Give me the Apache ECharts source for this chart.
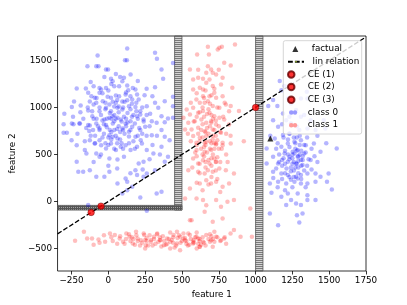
<!DOCTYPE html>
<html><head><meta charset="utf-8">
<script src="https://cdn.jsdelivr.net/npm/echarts@6/dist/echarts.min.js"></script>
<style>html,body{margin:0;padding:0;background:#fff}#c{width:407px;height:305px}</style>
</head><body><div id="c"></div>
<script>
const xTicks = [-250, 0, 250, 500, 750, 1000, 1250, 1500, 1750];
const yTicks = [-500, 0, 500, 1000, 1500];

// class 0 (blue): left cloud + right cloud
const class0 = [
 [128,1627],[-73,1552],[317,1581],[113,1503],[126,1503],[330,1517],[-142,1439],[-82,1439],[-67,1439],[-16,1404],
 [-2,1404],[439,1474],[51,1357],[361,1404],[80,1325],[106,1315],[151,1350],[-27,1325],[18,1304],[29,1279],
 [95,1279],[372,1304],[-215,1201],[-153,1201],[-100,1226],[-60,1208],[-49,1191],[-16,1208],[40,1226],[73,1226],
 [128,1233],[166,1208],[184,1191],[135,1184],[317,1216],[-137,1155],[-115,1120],[-93,1102],[-60,1155],[-5,1113],
 [18,1102],[51,1127],[73,1120],[117,1138],[195,1138],[246,1130],[299,1120],[439,1113],[-233,1063],[-248,1006],
 [-188,1020],[-126,1063],[-82,1049],[-38,1067],[7,1031],[51,1049],[95,1063],[128,1077],[162,1084],[206,1084],
 [317,1049],[383,1067],[439,1013],[-299,932],[-137,967],[-109,907],[-60,960],[-16,996],[18,960],[62,996],
 [95,978],[140,1013],[184,1006],[217,960],[261,1013],[284,932],[339,996],[361,907],[405,882],[439,889],
 [-248,829],[-197,829],[-126,808],[-82,829],[-27,872],[7,889],[29,907],[40,854],[62,889],[84,872],
 [106,900],[151,854],[195,907],[217,925],[239,872],[295,854],[328,836],[383,843],
 [-304,822],[-237,822],[-193,830],[-304,730],[-282,730],[-137,812],[-104,759],[-60,776],[-16,812],[7,705],
 [29,688],[40,759],[62,670],[95,776],[117,830],[140,741],[162,794],[184,688],[217,759],[250,794],
 [295,705],[361,759],[383,688],[416,652],[-126,652],[-93,617],[-49,599],[-16,564],[18,617],[51,546],
 [84,581],[117,599],[151,546],[195,581],[228,617],[261,546],[306,510],[361,581],[-215,599],[-160,546],
 [-149,510],[-82,510],[-60,475],[7,457],[62,447],[106,475],[206,404],[239,422],[-215,422],[-204,315],
 [-171,315],[-126,333],[-82,262],[-27,262],[7,315],[62,191],[117,244],[128,209],[184,333],[195,280],
 [233,340],[239,262],[261,298],[317,333],[328,85],[361,102],[128,120],[95,85],[217,42],[162,156],
 [-137,-39],[261,-100],[383,422],[405,475],
 [-90,700],[-60,650],[-30,720],[0,680],[20,740],[50,700],[80,660],[110,720],[140,690],[170,640],
 [200,700],[-70,800],[-40,860],[-10,790],[30,830],[60,770],[90,850],[120,800],[150,760],[180,830],
 [210,780],[-50,920],[-20,980],[10,940],[40,1010],[70,950],[100,1000],[130,940],[160,900],[190,960],
 [-100,880],[0,600],[40,560],[90,620],[-20,1050],[60,1080],[20,880],[-60,760],[120,880],[240,850],
 [230,720],[-130,750],[160,1040],
 [-140,1000],[-110,960],[-80,1100],[-40,1150],[0,1180],[30,1060],[70,1010],[110,1060],[150,1120],[190,1050],
 [230,1000],[260,920],[-170,880],[-150,780],[-120,700],[-90,620],[-40,680],[-20,620],[20,660],[60,620],
 [100,560],[140,620],[180,560],[220,650],[260,700],[280,800],[-190,950],[-210,720],[-250,650],[-240,900],
 [-10,880],[40,920],[70,800],[100,760],[130,840],[170,920],[200,880],[-30,820],[-80,880],[10,760],
 [50,880],[80,740],[-100,1030],[-60,1000],[150,980],[120,1160],[20,1250],[-120,1270],[200,1280],[260,1200],
 [300,600],[330,700],[350,500],[-50,500],[-100,420],[0,380],[60,350],[150,300],[280,450],[-160,640],
 [1164,1280],[1175,1184],[1197,1227],[1348,1167],[1352,1096],[1308,1096],[1219,1096],[1119,1078],[1148,1014],[1086,1014],
 [1241,1043],[1275,972],[1186,936],[1119,865],[1153,794],[1208,865],[1241,830],[1308,901],[1374,865],[1407,759],
 [1474,777],[1463,865],[1352,777],[1297,759],[1230,723],[1186,706],[1130,670],[1075,564],[1175,582],[1219,617],
 [1264,635],[1308,652],[1341,599],[1396,617],[1441,528],[1551,564],[1197,511],[1252,528],[1286,475],[1330,511],
 [1374,440],[1119,475],[1075,404],[1153,404],[1219,422],[1275,404],[1319,387],[1308,440],[1264,511],[1230,475],
 [1286,546],[1119,315],[1175,298],[1219,280],[1275,262],[1286,244],[1308,280],[1352,298],[1407,298],[1441,262],
 [1496,298],[1097,191],[1153,209],[1208,191],[1264,209],[1308,191],[1352,191],[1407,209],[1485,209],[1518,127],
 [1108,92],[1175,49],[1219,85],[1286,85],[1352,67],[1407,14],[1241,14],[1208,-39],[1275,-22],[1308,-39],
 [1352,14],[1097,-128],[1319,-128],[1281,-146],[1297,-224],[1153,-252],
 [1200,400],[1230,450],[1260,420],[1290,480],[1320,440],[1250,500],[1280,540],[1310,380],[1270,360],[1240,320],
 [1210,350],[1180,440],[1160,500],[1300,600],[1270,620],[1230,580],[1200,540],[1340,520],[1260,260],[1290,300],
 [1330,330],[1220,660],[1280,680],[1310,540],[1250,400],[1290,430],[1180,380],[1360,450],[1140,560],[1240,230],
 [1150,620],[1190,680],[1230,720],[1270,560],[1300,500],[1330,600],[1350,680],[1380,560],[1400,480],[1250,460],
 [1220,500],[1190,460],[1160,420],[1140,350],[1200,300],[1240,360],[1280,400],[1320,480],[1350,380],[1380,340],
 [1420,420],[1290,360],[1260,330],[1230,260],[1180,240],[1310,240],[1340,150],[1250,150],[1200,120],[1150,150],
 [1280,800],[1230,900],[1330,920],[1180,820],[1420,700],[1480,620],[1100,700],[1120,250],[1260,680],[1300,700]
];

// class 1 (red): vertical cloud + horizontal strip
const class1 = [
 [860,1670],[676,1645],[754,1634],[771,1645],[743,1617],[603,1563],[683,1563],[554,1404],[787,1475],[676,1439],
 [698,1404],[709,1368],[665,1368],[732,1351],[610,1315],[576,1298],[643,1305],[687,1298],[831,1446],[776,1315],
 [842,1209],[765,1244],[665,1262],[621,1209],[576,1191],[643,1191],[709,1227],[720,1156],[687,1120],[643,1120],
 [598,1085],[621,1049],[654,1049],[676,1067],[732,1102],[776,1120],[798,1032],[831,1014],[887,961],[709,1014],
 [754,996],[576,996],[532,978],[554,925],[610,943],[643,961],[687,943],[720,907],[754,890],[787,872],
 [510,890],[543,837],[587,854],[632,872],[665,837],[698,854],[732,819],[820,819],[521,766],[565,766],
 [610,783],[654,748],[709,766],[765,730],[576,695],[621,677],[665,695],[709,659],[598,624],[654,624],
 [732,606],[776,624],[920,641],
 [665,634],[732,617],[776,599],[831,617],[599,546],[654,528],[698,546],[720,457],[732,422],[687,404],
 [643,439],[610,404],[576,457],[543,333],[610,315],[654,297],[676,333],[709,315],[754,351],[798,333],
 [853,297],[554,138],[621,191],[665,226],[698,191],[732,209],[776,156],[820,191],[599,31],[643,14],
 [665,-40],[732,14],[765,-57],[809,-4],[853,14],[964,-75],[654,-110],[709,-217],[776,-181],[565,-199],
 [521,31],
 [620,950],[650,900],[680,980],[700,920],[730,860],[640,820],[670,780],[700,840],[720,760],[750,800],
 [610,720],[640,680],[680,720],[710,700],[740,650],[600,600],[630,560],[660,600],[690,640],[720,560],
 [650,480],[680,440],[710,500],[740,470],[620,400],[660,360],[700,380],[730,330],[760,420],[590,520],
 [770,560],[580,850],[560,640],[800,720],[780,900],[690,1040],[650,1100],[720,1200],[600,900],[740,1000],
 [600,1150],[640,1000],[670,930],[710,880],[690,800],[660,740],[630,760],[700,620],[730,700],[760,740],
 [620,640],[650,580],[690,560],[720,620],[750,560],[600,480],[640,500],[670,520],[700,460],[730,420],
 [660,420],[620,300],[700,260],[740,240],[680,180],[640,120],[760,100],[600,200],[570,360],[800,500],
 [810,420],[830,700],[790,1050],[560,1050],[540,720],[700,1130],[660,1180],[610,1400],[750,1400],[820,960],
 [853,-305],[898,-376],[975,-376],[720,-323],
 [-226,-419],[-166,-323],[-144,-394],[-111,-394],[-67,-405],[-22,-429],[11,-341],[44,-358],[77,-394],[100,-429],
 [122,-341],[144,-376],[166,-447],[188,-323],[199,-394],[221,-412],[244,-358],[255,-465],[288,-429],[310,-376],
 [332,-341],[354,-412],[377,-465],[399,-394],[421,-429],[443,-358],[465,-447],[487,-518],[510,-394],[543,-341],
 [554,-199],[576,-429],[598,-376],[620,-483],
 [466,-323],[488,-376],[521,-412],[554,-358],[576,-447],[610,-394],[643,-430],[665,-358],[698,-412],[732,-376],
 [765,-412],[787,-394],[709,-483],[621,-483],
 [120,-400],[160,-380],[200,-420],[230,-440],[260,-390],[290,-410],[320,-450],[350,-380],[380,-420],[410,-400],
 [440,-440],[470,-390],[500,-420],[530,-450],[560,-400],[590,-380],[620,-420],[650,-440],[680,-400],[700,-370],
 [720,-430],[180,-460],[270,-470],[360,-480],[450,-490],[540,-470],[630,-460],[140,-350],[240,-340],[330,-350],
 [420,-330],[510,-340],[600,-330],[690,-350],[760,-420],[790,-380],[60,-450],[20,-380],[-60,-440],[310,-400],
 [400,-450],[580,-440],[480,-360],
 [30,-420],[80,-370],[110,-450],[150,-420],[190,-360],[215,-470],[250,-410],[280,-360],[300,-470],[340,-430],
 [370,-370],[390,-460],[430,-410],[460,-470],[490,-440],[520,-390],[550,-460],[580,-410],[610,-450],[640,-380],
 [660,-470],[690,-430],[710,-400],[740,-380],[170,-400],[260,-420],[350,-410],[440,-380],[530,-420],[620,-400],
 [-100,-460],[-30,-360],[800,-450],[830,-340],[250,-500],[420,-500],[600,-500]
];

const linRelation = [[-345,-345],[1750,1750]];
const factual = [[1100,670]];
const ce1 = [[1000,1000]];
const ce2 = [[-50,-50]];
const ce3 = [[-117,-117]];
// constraint regions: [xMin, xMax, yMin, yMax]
const constraintBoxes = [[450,500,-92,1760],[-345,500,-92,-42],[1000,1050,-740,1760]];

function pattern(dark, light, checker) {
  const c = document.createElement('canvas');
  c.width = 2; c.height = 2;
  const g = c.getContext('2d');
  g.fillStyle = light; g.fillRect(0,0,2,2);
  g.fillStyle = dark;
  if (checker) { g.fillRect(0,0,2,1); g.fillRect(0,1,1,1); }
  else g.fillRect(0,0,2,1);
  return {image: c, repeat: 'repeat'};
}
const vPat = pattern('#7a7a7a', '#d4d4d4', false);
const hPat = pattern('#555555', '#a0a0a0', true);

const FONT = 'DejaVu Sans';
const minus = v => String(v).replace('-', '\u2212');
const chart = echarts.init(document.getElementById('c'), null, {renderer: 'canvas'});
const legendText = {fontFamily: FONT, fontSize: 8.8, color: '#000', lineHeight: 12, padding: [0,0,0,3.5]};
const legendBase = {orient: 'vertical', left: 287, itemWidth: 16, padding: 0, selectedMode: false, z: 60, textStyle: legendText, itemGap: 0.7};
const BLUE = 'rgba(0,0,255,0.34)';
const RED = 'rgba(255,0,0,0.3)';
const SMALL_DOT = 'path://M0,0M100,100M50,15A35,35,0,1,1,50,85A35,35,0,1,1,50,15Z';

chart.setOption({
  animation: false,
  grid: {left: 51, right: 41, top: 36, bottom: 34, show: true, borderColor: '#000', borderWidth: 0.8, backgroundColor: 'transparent'},
  xAxis: {
    type: 'value', min: -345, max: 1750,
    axisLine: {show: false, onZero: false}, splitLine: {show: false},
    axisTick: {show: true, inside: false, length: 3.5, lineStyle: {color: '#000', width: 0.8}, customValues: xTicks},
    axisLabel: {customValues: xTicks, formatter: minus, color: '#000', fontFamily: FONT, fontSize: 8.8, margin: 5.5},
    name: 'feature 1', nameLocation: 'middle', nameGap: 18,
    nameTextStyle: {fontFamily: FONT, fontSize: 8.8, color: '#000'}
  },
  yAxis: {
    type: 'value', min: -740, max: 1760,
    axisLine: {show: false, onZero: false}, splitLine: {show: false},
    axisTick: {show: true, inside: false, length: 3.5, lineStyle: {color: '#000', width: 0.8}, customValues: yTicks},
    axisLabel: {customValues: yTicks, formatter: minus, color: '#000', fontFamily: FONT, fontSize: 8.8, margin: 5.5},
    name: 'feature 2', nameLocation: 'middle', nameGap: 33, nameRotate: 90,
    nameTextStyle: {fontFamily: FONT, fontSize: 8.8, color: '#000'}
  },
  graphic: [
    {type: 'rect', z: 50, shape: {x: 283.3, y: 40.7, width: 78.4, height: 93.3, r: 2},
     style: {fill: 'rgba(255,255,255,0.8)', stroke: '#cccccc', lineWidth: 0.8}},
    // legend swatches for the two class series
    {type: 'circle', z: 70, shape: {cx: 295, cy: 112.5, r: 2.2}, style: {fill: '#9a9aff'}},
    {type: 'circle', z: 70, shape: {cx: 295, cy: 125.2, r: 2.2}, style: {fill: '#ff9a9a'}}
  ],
  legend: [
    Object.assign({}, legendBase, {top: 43, left: 292.3, itemWidth: 6, itemHeight: 6,
      textStyle: Object.assign({}, legendText, {padding: [0,0,0,8.5]}), data: [{name: 'factual', icon: 'triangle'}]}),
    Object.assign({}, legendBase, {top: 55.7, itemHeight: 2, data: ['lin relation']}),
    Object.assign({}, legendBase, {top: 68.4, itemHeight: 6.5, data: [
      'CE (1)', 'CE (2)', 'CE (3)',
      {name: 'class 0', icon: SMALL_DOT, itemStyle: {color: '#9a9aff', opacity: 1}},
      {name: 'class 1', icon: SMALL_DOT, itemStyle: {color: '#ff9a9a', opacity: 1}}]})
  ],
  series: [
    {
      type: 'custom', name: 'constraints', z: 1, silent: true,
      encode: {x: [0,1], y: [2,3]},
      data: constraintBoxes,
      renderItem: (params, api) => {
        const p0 = api.coord([api.value(0), api.value(3)]);
        const p1 = api.coord([api.value(1), api.value(2)]);
        const cs = params.coordSys;
        const r = echarts.graphic.clipRectByRect(
          {x: p0[0], y: p0[1], width: p1[0]-p0[0], height: p1[1]-p0[1]},
          {x: cs.x, y: cs.y, width: cs.width, height: cs.height});
        if (!r) return null;
        const horiz = r.width > r.height;
        return {type: 'rect', shape: r, style: {fill: horiz ? hPat : vPat, stroke: '#555', lineWidth: 0.8}};
      }
    },
    {type: 'scatter', name: 'class 0', data: class0, symbolSize: 4.5, z: 2,
     itemStyle: {color: BLUE, opacity: 0.85}},
    {type: 'scatter', name: 'class 1', data: class1, symbolSize: 4.5, z: 2,
     itemStyle: {color: RED, opacity: 0.85}},
    {type: 'line', name: 'lin relation', data: linRelation, symbol: 'none', z: 3,
     lineStyle: {color: '#000', width: 1.3, type: [4.8, 2.1]}},
    {type: 'scatter', name: 'CE (1)', data: ce1, symbolSize: 6.5, z: 4, itemStyle: {color: '#ff0000', borderColor: '#600', borderWidth: 0.6}},
    {type: 'scatter', name: 'CE (2)', data: ce2, symbolSize: 6.5, z: 4, itemStyle: {color: '#ff0000', borderColor: '#600', borderWidth: 0.6}},
    {type: 'scatter', name: 'CE (3)', data: ce3, symbolSize: 6.5, z: 4, itemStyle: {color: '#ff0000', borderColor: '#600', borderWidth: 0.6}},
    {type: 'scatter', name: 'factual', data: factual, symbol: 'triangle', symbolSize: 6, z: 4, itemStyle: {color: '#000'}}
  ]
});
</script>
</body></html>
